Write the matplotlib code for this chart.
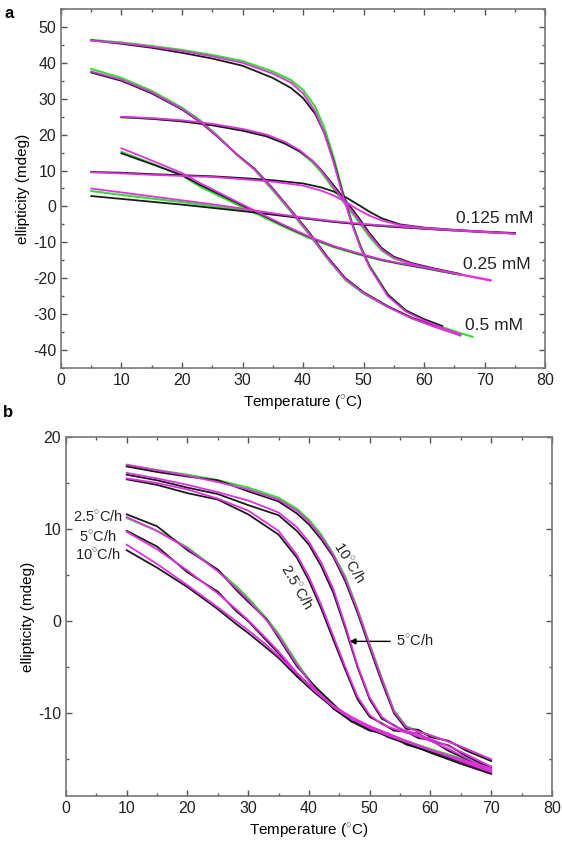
import numpy as np
import matplotlib
matplotlib.use("Agg")
import matplotlib.pyplot as plt
from matplotlib.ticker import MultipleLocator

plt.rcParams['font.family'] = ['Liberation Sans', 'DejaVu Sans']
plt.rcParams['mathtext.fontset'] = 'custom'
plt.rcParams['mathtext.rm'] = 'Liberation Sans'
plt.rcParams['axes.unicode_minus'] = False

nan = np.nan

# ---------------- panel a : three concentrations ----------------
# 0.5 mM, sharp melt
t_a1 = [5, 10, 15, 20, 25, 30, 35, 38, 40, 42, 43.5, 45, 46.5, 48, 49.5, 51, 54, 57, 60, 63, 66, 68]
green_a1 = [46.4, 45.7, 44.7, 43.6, 42.2, 40.5, 37.6, 35.2, 32.5, 27.8, 22, 14, 4.5, -4, -11, -16.5, -24.5, -29, -31.6, -33.6, -35.3, -36.3]
pink_a1 = [46.2, 45.5, 44.5, 43.3, 41.8, 40.0, 37.0, 34.5, 31.5, 26.5, 20.5, 12.5, 3.5, -4.5, -11.5, -17, -25, -29.3, -31.8, -33.8, -35.6, nan]
black_a1 = [46.3, 45.3, 44.2, 42.8, 41.2, 39.2, 35.8, 33.0, 30.2, 25.8, 20.5, 13, 4, -4.3, -11.3, -16.8, -24.6, -29, -31.4, -33.3, nan, nan]

# 0.5 mM, broad melt
t_a2 = [5, 10, 15, 20, 23, 26, 29, 32, 35, 38, 41, 44, 47, 50, 54, 58, 62, 66]
green_a2 = [38.3, 35.8, 32.2, 27.5, 24, 19.5, 14.5, 10.2, 4.5, -1.5, -7.8, -14.5, -20.5, -24.3, -28, -31.2, -33.6, -35.8]
pink_a2 = [37.6, 35.3, 31.8, 27.2, 23.7, 19.3, 14.5, 10.3, 4.8, -1.2, -7.5, -14.3, -20.3, -24.1, -28, -31.2, -33.7, -36]
black_a2 = [37.3, 35.0, 31.5, 27.0, 23.5, 19.2, 14.6, 10.5, 5.0, -1.0, -7.2, -14, -20, -23.9, -27.8, -31, -33.5, nan]

# 0.25 mM, sharp melt
t_a3 = [10, 15, 20, 25, 30, 34, 37, 39.5, 41.5, 43, 45, 47, 49, 51, 53, 55, 58, 62, 66, 71]
green_a3 = [24.8, 24.5, 23.8, 22.8, 21.3, 19.7, 17.6, 15.2, 12.4, 9.6, 5, 0.5, -3.8, -8.5, -12.3, -14.5, -16.1, -17.7, -19.1, nan]
pink_a3 = [25, 24.6, 24, 23, 21.6, 20, 18, 15.6, 12.8, 10, 5.5, 1, -3.3, -8, -12, -14.3, -16, -17.6, -19, -20.7]
black_a3 = [24.9, 24.4, 23.7, 22.6, 21.1, 19.5, 17.5, 15.3, 12.8, 10.2, 6, 1.7, -2.7, -7.5, -11.6, -14, -15.8, -17.4, -18.8, nan]

# 0.25 mM, broad melt
t_a4 = [10, 15, 20, 23, 28.5, 33, 37, 41, 45, 49, 53, 56, 60, 65, 71]
green_a4 = [15.2, 12.0, 8.6, 5.5, 1.0, -2.6, -5.8, -8.8, -11.3, -13.3, -15, -16, -17.2, -18.8, nan]
pink_a4 = [16.2, 12.8, 9.3, 6.5, 1.8, -2, -5.3, -8.4, -11, -13, -14.8, -15.8, -17, -18.6, -20.5]
black_a4 = [14.8, 11.8, 8.7, 6.0, 1.5, -2.2, -5.5, -8.5, -11.1, -13.1, -14.9, -15.9, -17.1, -18.7, nan]

# 0.125 mM, sharp melt
t_a5 = [5, 10, 15, 20, 25, 30, 35, 40, 43, 45, 47, 49, 51, 53, 56, 60, 65, 70, 75]
pink_a5 = [9.5, 9.2, 8.8, 8.5, 8.2, 7.6, 6.9, 5.8, 4.4, 3.1, 1.3, -0.8, -2.6, -3.9, -5.2, -6, -6.6, -7.1, -7.6]
black_a5 = [9.6, 9.4, 9.0, 8.7, 8.4, 7.9, 7.3, 6.4, 5.3, 4.2, 2.6, 0.6, -1.5, -3.3, -5, -5.9, -6.5, -7.0, -7.4]

# 0.125 mM, broad melt
t_a6 = [5, 10, 15, 20, 25, 30, 35, 40, 45, 50, 55, 60, 65, 70, 75]
green_a6 = [4.3, 3.2, 2.2, 1.2, 0.1, -1.0, -2.1, -3.2, -4.2, -5, -5.6, -6.2, -6.7, nan, nan]
pink_a6 = [5.0, 3.9, 2.8, 1.7, 0.6, -0.6, -1.9, -3.1, -4.1, -4.9, -5.5, -6.1, -6.6, -7.1, -7.6]
black_a6 = [2.9, 2.1, 1.3, 0.5, -0.4, -1.3, -2.3, -3.3, -4.3, -5.1, -5.7, -6.2, -6.7, -7.2, -7.5]

conc_labels = ['0.125 mM', '0.25 mM', '0.5 mM']
conc_label_x = [65.3, 66.4, 66.8]
conc_label_y = [-3.4, -16.2, -33.2]

# ---------------- panel b : three scan rates ----------------
t_s = [10, 15, 20, 25, 30, 35, 38, 40, 42, 44, 46, 48, 50, 52, 54, 56, 58, 60, 63, 66, 70]
pink_s10 = [17.0, 16.4, 15.8, 15.1, 14.3, 13.2, 12.0, 10.8, 9.2, 7.2, 4.6, 1.2, -2.6, -6.3, -9.8, -11.5, -12.0, -12.4, -13.1, -13.9, -15.0]
green_s10 = [16.9, 16.4, 15.9, 15.3, 14.5, 13.4, 12.2, 11.0, 9.4, 7.3, 4.8, 1.3, -2.5, -6.2, -9.7, -11.4, -12.0, -12.4, -13.1, -13.9, -15.1]
black_s10 = [16.8, 16.2, 15.7, 15.3, 14.1, 13.0, 11.7, 10.5, 8.9, 7.0, 4.3, 0.9, -2.9, -6.6, -10.0, -11.7, -11.8, -12.6, -13.0, -14.1, -15.2]
pink_s5 = [16.1, 15.5, 14.8, 14.0, 13.1, 11.8, 10.2, 8.6, 6.4, 3.5, -0.5, -4.8, -8.3, -10.4, -11.4, -11.9, -12.3, -12.8, -13.6, -14.5, -15.8]
black_s5 = [15.9, 15.3, 14.5, 13.8, 12.6, 11.5, 9.8, 8.3, 6.0, 3.1, -0.8, -5.0, -8.5, -10.6, -11.3, -12.1, -12.2, -13.0, -13.5, -14.7, -16.0]
pink_s25 = [15.5, 15.0, 14.3, 13.3, 12.0, 9.8, 7.2, 4.8, 1.8, -1.6, -5.0, -8.2, -10.2, -11.2, -11.7, -12.1, -12.5, -13.0, -13.9, -14.9, -16.2]
black_s25 = [15.4, 14.8, 13.9, 13.2, 11.6, 9.4, 6.9, 4.4, 1.4, -2.0, -5.3, -8.5, -10.4, -11.1, -11.9, -12.0, -12.7, -12.9, -14.1, -15.0, -16.4]

t_b = [10, 15, 20, 25, 28, 30, 33, 35, 38, 41, 44, 47, 50, 53, 56, 60, 65, 70]
pink_b25 = [11.3, 9.8, 7.9, 5.4, 3.6, 2.3, 0.1, -1.6, -4.7, -7.4, -9.3, -10.6, -11.6, -12.4, -13.1, -14.0, -15.0, -16.0]
green_b25 = [11.2, 9.8, 8.0, 5.5, 3.8, 2.5, 0.3, -1.4, -4.5, -7.3, -9.2, -10.5, -11.5, -12.3, -13.0, -13.9, -14.9, -15.8]
black_b25 = [11.6, 10.3, 7.7, 5.6, 3.4, 2.1, 0.2, -1.8, -4.9, -7.1, -9.0, -10.9, -11.9, -12.2, -13.4, -14.2, -15.2, -16.3]
pink_b5 = [9.7, 7.8, 5.5, 3.0, 1.3, 0.1, -1.9, -3.3, -5.6, -7.6, -9.3, -10.6, -11.6, -12.4, -13.1, -14.0, -15.1, -16.2]
black_b5 = [9.8, 8.1, 5.3, 3.2, 1.1, 0.0, -2.1, -3.5, -5.8, -7.4, -9.5, -10.9, -11.4, -12.6, -13.3, -14.2, -15.3, -16.5]
pink_b10 = [8.3, 6.2, 3.9, 1.5, 0.0, -1.0, -2.6, -3.8, -5.7, -7.6, -9.2, -10.4, -11.4, -12.2, -13.0, -14.0, -15.2, -16.4]
black_b10 = [7.7, 5.8, 3.7, 1.3, -0.3, -1.3, -2.9, -4.0, -6.0, -7.8, -9.4, -10.6, -11.8, -12.5, -13.2, -14.3, -15.5, -16.6]

rate_labels = ['2.5$^{\\circ}$C/h', '5$^{\\circ}$C/h', '10$^{\\circ}$C/h']
rate_label_y = [11.3, 9.1, 7.1]

GREEN = '#2fe02f'
PINK = '#e030e0'
BLACK = '#1a1a1a'


def style_axes(ax, ylim, ymajor, yminor):
    ax.set_xlim(0, 80)
    ax.set_ylim(*ylim)
    ax.xaxis.set_major_locator(MultipleLocator(10))
    ax.xaxis.set_minor_locator(MultipleLocator(5))
    ax.yaxis.set_major_locator(MultipleLocator(ymajor))
    ax.yaxis.set_minor_locator(MultipleLocator(yminor))
    ax.tick_params(which='both', direction='in', top=True, right=True,
                   color='#555555', labelsize=11.5, labelcolor='#222222', width=1)
    ax.tick_params(which='major', length=4)
    ax.tick_params(which='minor', length=2.5)
    for s in ax.spines.values():
        s.set_color('#777777')
        s.set_linewidth(1.2)
    ax.set_xlabel('Temperature ($^{\\circ}$C)', fontsize=11, labelpad=4)
    ax.set_ylabel('ellipticity (mdeg)', fontsize=11, labelpad=2)


def draw(ax, t, black=None, green=None, pink=None):
    if green is not None:
        ax.plot(t, green, color=GREEN, lw=1.5, zorder=2)
    if black is not None:
        ax.plot(t, black, color=BLACK, lw=1.3, zorder=3)
    if pink is not None:
        ax.plot(t, pink, color=PINK, lw=1.3, zorder=4)


fig = plt.figure(figsize=(5.62, 8.51), dpi=100)

# --------- panel a ---------
ax1 = fig.add_axes([0.1085, 0.5676, 0.8615, 0.4218])
draw(ax1, t_a1, black_a1, green_a1, pink_a1)
draw(ax1, t_a2, black_a2, green_a2, pink_a2)
draw(ax1, t_a3, black_a3, green_a3, pink_a3)
draw(ax1, t_a4, black_a4, green_a4, pink_a4)
draw(ax1, t_a5, black_a5, None, pink_a5)
draw(ax1, t_a6, black_a6, green_a6, pink_a6)
for lab, x, y in zip(conc_labels, conc_label_x, conc_label_y):
    ax1.text(x, y, lab, fontsize=12.5, va='center', ha='left', color='#222222')
style_axes(ax1, (-45, 55), 10, 5)
fig.text(0.008, 0.993, 'a', fontsize=12, fontweight='bold', va='top')

# --------- panel b ---------
ax2 = fig.add_axes([0.1174, 0.0646, 0.8646, 0.4219])
draw(ax2, t_s, black_s10, green_s10, pink_s10)
draw(ax2, t_s, black_s5, None, pink_s5)
draw(ax2, t_s, black_s25, None, pink_s25)
draw(ax2, t_b, black_b25, green_b25, pink_b25)
draw(ax2, t_b, black_b5, None, pink_b5)
draw(ax2, t_b, black_b10, None, pink_b10)
for lab, y in zip(rate_labels, rate_label_y):
    ax2.text(5.3, y, lab, fontsize=10.5, ha='center', va='center', color='#222222')
ax2.text(46.6, 6.3, '10$^{\\circ}$C/h', fontsize=10.5, rotation=-58,
         ha='center', va='center', color='#222222')
ax2.text(37.9, 3.7, '2.5$^{\\circ}$C/h', fontsize=10.5, rotation=-60,
         ha='center', va='center', color='#222222')
ax2.annotate('5$^{\\circ}$C/h', xy=(46.2, -2.2), xytext=(54.3, -2.2),
             fontsize=10.5, va='center', ha='left', color='#222222',
             arrowprops=dict(arrowstyle='-|>', color='k', lw=1, mutation_scale=9))
style_axes(ax2, (-19, 20), 10, 5)
fig.text(0.005, 0.515, 'b', fontsize=12, fontweight='bold', va='center')

fig.savefig('out.png', dpi=100)
